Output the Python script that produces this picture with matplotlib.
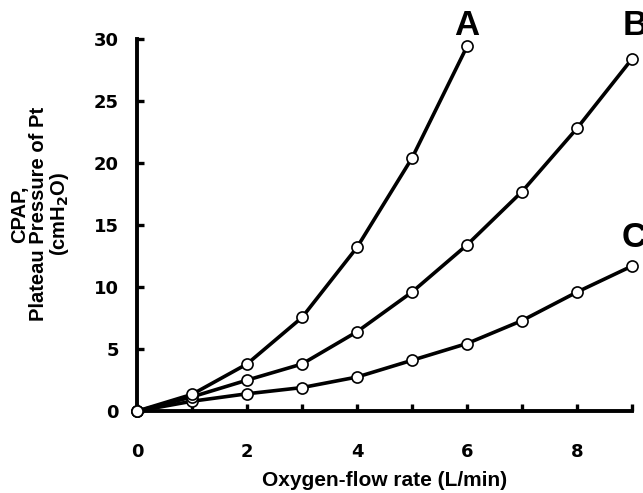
import matplotlib
matplotlib.use("Agg")
import matplotlib.pyplot as plt

flow_a = [0, 1, 2, 3, 4, 5, 6]
pressure_a = [0, 1.35, 3.8, 7.55, 13.2, 20.4, 29.4]
flow_bc = [0, 1, 2, 3, 4, 5, 6, 7, 8, 9]
pressure_b = [0, 1.15, 2.5, 3.8, 6.4, 9.6, 13.4, 17.7, 22.8, 28.4]
pressure_c = [0, 0.8, 1.4, 1.9, 2.75, 4.1, 5.45, 7.3, 9.6, 11.7]
series_labels = ["A", "B", "C"]
xticks = [0, 2, 4, 6, 8]
yticks = [0, 5, 10, 15, 20, 25, 30]

plt.rcParams['font.family'] = ['Liberation Sans', 'DejaVu Sans']

fig = plt.figure(figsize=(6.43, 4.93), dpi=100)
ax = fig.add_axes([0.213, 0.166, 0.770, 0.755])

style = dict(color='black', lw=2.6, marker='o', ms=8, mfc='white',
             mec='black', mew=1.2, clip_on=False, zorder=3)
ax.plot(flow_bc, pressure_c, **style)
ax.plot(flow_bc, pressure_b, **style)
ax.plot(flow_a, pressure_a, **style)

ax.set_xlim(0, 9)
ax.set_ylim(0, 30)
ax.set_xticks(range(0, 10))
ax.set_xticklabels([str(v) if v in xticks else '' for v in range(0, 10)])
ax.set_yticks(yticks)
ax.set_yticklabels([str(v) for v in yticks])

for s in ['top', 'right']:
    ax.spines[s].set_visible(False)
for s in ['left', 'bottom']:
    ax.spines[s].set_linewidth(2.8)

ax.tick_params(axis='both', direction='in', length=5, width=2.4,
               labelsize=13)
ax.tick_params(axis='x', pad=23)
ax.tick_params(axis='y', pad=13)
for lab in ax.get_xticklabels() + ax.get_yticklabels():
    lab.set_fontweight('bold')
    lab.set_family('DejaVu Sans')

ax.set_xlabel('Oxygen-flow rate (L/min)', fontsize=15, fontweight='bold',
              labelpad=7)
ax.set_ylabel('CPAP,\nPlateau Pressure of Pt\n(cmH$_\\mathbf{2}$O)',
              fontsize=14.5, fontweight='bold', linespacing=1.0)
ax.yaxis.set_label_coords(-0.133, 0.53)

ax.text(flow_a[-1], 30.3, series_labels[0], fontsize=25, fontweight='bold',
        ha='center', va='baseline', clip_on=False)
ax.text(9.06, 30.3, series_labels[1], fontsize=25, fontweight='bold',
        ha='center', va='baseline', clip_on=False)
ax.text(9.04, 13.2, series_labels[2], fontsize=25, fontweight='bold',
        ha='center', va='baseline', clip_on=False)

fig.savefig('out.png', dpi=100)
